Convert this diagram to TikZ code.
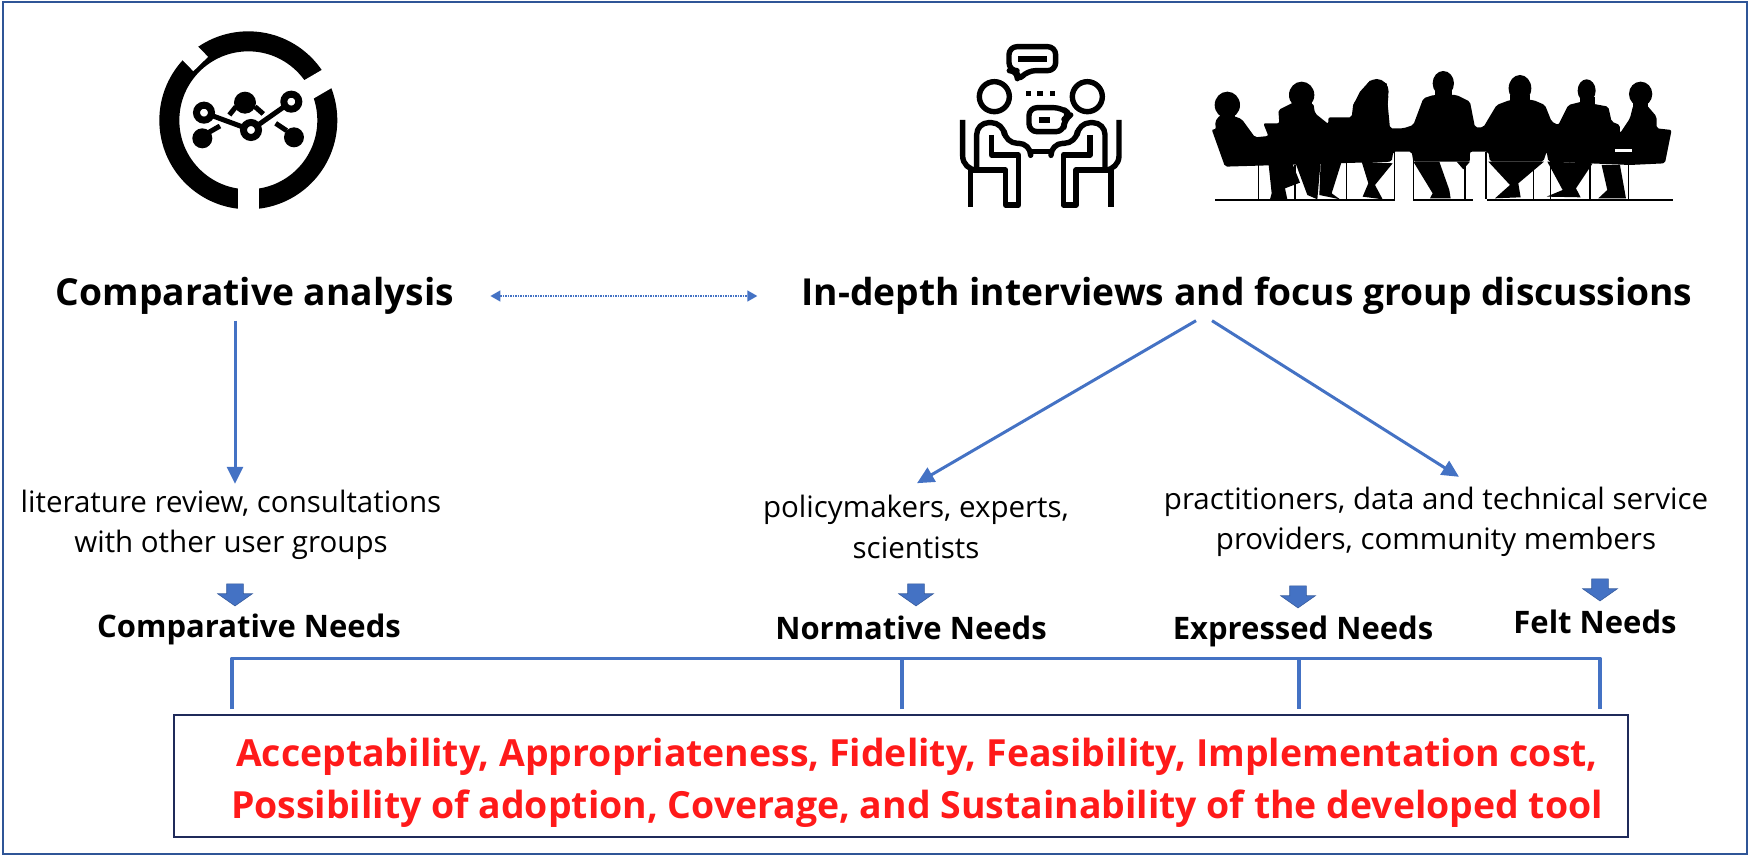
\documentclass[tikz,border=0pt]{standalone}
\usepackage{fontspec}
\setmainfont{Open Sans}
\usetikzlibrary{arrows.meta,shapes.arrows}
\definecolor{lineblue}{HTML}{4472C4}
\definecolor{framenavy}{HTML}{2F5597}
\definecolor{boxnavy}{HTML}{1F2A5A}
\definecolor{redtext}{HTML}{FF1A1A}
\tikzset{
    heading/.style={font=\fontsize{37.2}{42}\selectfont\bfseries,inner sep=0pt,text height=27pt,text depth=8pt},
    sources/.style={font=\fontsize{29.5}{40.5}\selectfont,align=center,inner sep=0pt},
    needs/.style={font=\fontsize{31}{36}\selectfont\bfseries,inner sep=0pt},
    outcomebox/.style={draw=boxnavy,line width=1.8pt,minimum width=1454pt,minimum height=122pt,inner sep=0pt},
    outcometext/.style={font=\fontsize{37.4}{52.5}\selectfont\bfseries,align=center,text=redtext,inner sep=0pt},
    link/.style={draw=lineblue,line width=3pt,-{Triangle[length=17pt,width=16pt]}},
    bracket/.style={draw=lineblue,line width=3.2pt},
    needarrow/.style={shape=single arrow,rotate=-90,fill=lineblue,draw=lineblue!80!black,line width=.6pt,inner xsep=0pt,inner ysep=8pt,
        minimum width=34pt,minimum height=22pt,single arrow head extend=9pt,single arrow tip angle=110,single arrow head indent=0pt},
    icon/.style={line width=5.4pt,draw=black,line join=round},
}
\begin{document}
\begin{tikzpicture}[x=1pt,y=-1pt]
    \useasboundingbox (0,0) rectangle (1750,856);
    \draw[framenavy,line width=2pt] (3,2) rectangle (1747,854);
    % analysis icon
    \begin{scope}[shift={(130,10)},x=0.3333pt,y=-0.3333pt]
        \draw[line width=20pt] (355,331) circle (237);
        \draw[white,line width=20.5pt] (355,515) -- (355,625);
        \draw[white,line width=20.5pt] (525,245) -- (645,175);
        \draw[white,line width=20.5pt] (212,162) -- (145,93);
        \fill (345,278) circle (33);
        \draw[line width=5pt] (318,290) -- (298,315) (375,290) -- (400,312);
        \fill (217,385) circle (30);
        \fill (492,382) circle (30);
        \draw[line width=5pt] (235,368) -- (270,348) (470,362) -- (437,340);
        \draw[white,line width=11pt] (222,308) -- (363,360) -- (484,275);
        \draw[line width=5pt] (222,308) -- (363,360) -- (484,275);
        \foreach \px/\py in {222/308,363/360,484/275}
            \draw[fill=white,line width=7pt] (\px,\py) circle (22.5);
    \end{scope}
    % interview icon
    \begin{scope}[shift={(940,30)},x=0.3333pt,y=-0.3333pt]
        \draw[icon,rounded corners=8pt] (232,122) -- (207,122) -- (207,50) -- (347,50) -- (347,122) -- (262,122) -- (232,155) -- cycle;
        \fill (235,78) rectangle (320,95);
        \foreach \px in {265,300,337}
            \fill (\px-8,183) rectangle (\px+8,199);
        \draw[icon,fill=white,rounded corners=8pt] (267,233) -- (365,233) -- (392,255) -- (372,268) -- (372,305) -- (267,305) -- cycle;
        \fill (297,262) rectangle (330,278);
        \draw[icon] (272,365) -- (333,365);
        \foreach \fx/\sx in {0.3333/0,-0.3333/605} {
            \begin{scope}[shift={(\sx,0)},x=\fx pt]
                \draw[icon] (163,200) circle (45);
                \draw[icon,rounded corners=12pt] (110,415) -- (110,278) -- (190,278) -- (196,340) -- (272,340) -- (272,372);
                \draw[icon] (155,315) -- (155,375) -- (235,375) -- (235,525) -- (197,525) -- (197,420) -- (92,420) -- (92,532);
                \draw[icon,rounded corners=14pt] (68,270) -- (68,420) -- (105,420);
            \end{scope}
        }
    \end{scope}
    % meeting silhouette
    \begin{scope}[shift={(1200,50)},x=0.3333pt,y=-0.3333pt]
        \fill[rounded corners=2pt] (35,238) -- (48,238) -- (45,215) -- (60,195) -- (100,198) -- (125,207) -- (165,262) -- (205,258) -- (190,220) -- (238,220)
            -- (235,180) -- (285,155) -- (340,160) -- (345,190) -- (385,222) -- (385,202) -- (455,202) -- (460,160) -- (490,130) -- (560,130) -- (570,235)
            -- (610,235) -- (640,225) -- (670,145) -- (700,135) -- (770,135) -- (810,155) -- (825,232) -- (850,232) -- (890,165) -- (930,150) -- (1000,150)
            -- (1035,165) -- (1055,215) -- (1075,225) -- (1105,165) -- (1145,155) -- (1225,170) -- (1235,215) -- (1260,225) -- (1260,250) -- (1290,205)
            -- (1300,165) -- (1340,165) -- (1370,200) -- (1370,235) -- (1415,240) -- (1395,340) -- (1290,345) -- (1045,335) -- (1040,305) -- (1030,335)
            -- (870,335) -- (865,305) -- (810,305) -- (810,335) -- (640,335) -- (635,305) -- (580,305) -- (575,335) -- (75,350) -- cycle;
        \foreach \hx/\hy/\hrx/\hry in {82/165/38/40,305/135/38/40,530/125/36/38,730/100/32/37,960/115/34/40,1160/122/27/34,1322/132/35/37}
            \fill (\hx,\hy) ellipse ({\hrx} and {\hry});
        \foreach \nx/\ny/\nw in {60/180/45,275/150/60,705/120/50,930/135/60,1140/140/45,1300/150/45}
            \fill (\nx,\ny) rectangle (\nx+\nw,\ny+28);
        \fill (460,165) -- (480,125) -- (510,92) -- (560,100) -- (565,140) -- (560,200) -- cycle;
        \fill (205,335) -- (215,430) -- (210,448) -- (262,448) -- (255,415) -- (300,398) -- (275,335) -- cycle;
        \fill (285,335) -- (322,435) -- (352,448) -- (362,335) -- cycle;
        \fill (362,335) -- (358,435) -- (420,448) -- (395,430) -- (425,335) -- cycle;
        \fill (485,335) -- (505,400) -- (488,440) -- (548,448) -- (525,405) -- (578,340) -- cycle;
        \fill (640,335) -- (698,430) -- (690,445) -- (752,445) -- (748,420) -- (718,335) -- cycle;
        \fill (770,335) -- (790,358) -- (810,335) -- cycle;
        \fill (865,335) -- (930,405) -- (885,445) -- (962,442) -- (955,400) -- (1032,335) -- cycle;
        \fill (1042,335) -- (1088,420) -- (1040,440) -- (1142,442) -- (1128,415) -- (1178,340) -- cycle;
        \fill (1205,345) -- (1222,420) -- (1195,445) -- (1278,445) -- (1260,345) -- cycle;
        \fill[white] (1245,296) rectangle (1295,305);
        \draw[line width=1.7pt] (45,450) -- (585,450) (640,450) -- (820,450) (860,450) -- (1418,450);
        \draw[line width=1.2pt] (175,345) -- (175,448) (285,345) -- (285,448) (440,335) -- (440,448) (583,305) -- (583,448) (640,305) -- (640,448)
            (795,335) -- (795,448) (858,305) -- (858,448) (1000,335) -- (1000,448) (1052,305) -- (1052,448) (1170,340) -- (1170,448) (1285,345) -- (1285,448);
    \end{scope}
    % texts
    \node[heading] (comparative) at (255,296) {Comparative analysis};
    \node[heading] (interviews) at (1247,296) {In-depth interviews and focus group discussions};
    \node[sources] (literature) at (231,525) {literature review, consultations\\with other user groups};
    \node[sources] (policy) at (916,527) {policymakers, experts,\\scientists};
    \node[sources] (practice) at (1436,522) {practitioners, data and technical service\\providers, community members};
    \node[needs] (compneeds) at (249,629) {Comparative Needs};
    \node[needs] (normneeds) at (911,628) {Normative Needs};
    \node[needs] (exprneeds) at (1303,631) {Expressed Needs};
    \node[needs] (feltneeds) at (1595,622) {Felt Needs};
    \node[outcomebox] (outcome) at (901,776) {};
    \node[outcometext] (outcomelist) at (917,783) {Acceptability, Appropriateness, Fidelity, Feasibility, Implementation cost,\\Possibility of adoption, Coverage, and Sustainability of the developed tool};
    % small block arrows
    \node[needarrow] (arrowcomp) at (235,592) {};
    \node[needarrow] (arrownorm) at (916,592) {};
    \node[needarrow] (arrowexpr) at (1298,594) {};
    \node[needarrow] (arrowfelt) at (1600,587) {};
    % connectors
    \draw[lineblue,line width=1.5pt,densely dotted,{Triangle[length=10pt,width=11pt]}-{Triangle[length=10pt,width=11pt]},shorten <=36pt,shorten >=44pt] (comparative.east) -- (interviews.west);
    \draw[link] ([xshift=-20pt,yshift=-7pt]comparative.south) -- ([xshift=4pt,yshift=6pt]literature.north);
    \draw[link] ([xshift=-51pt,yshift=-7pt]interviews.south) -- ([xshift=1pt,yshift=12pt]policy.north);
    \draw[link] ([xshift=-35pt,yshift=-7pt]interviews.south) -- ([xshift=23pt,yshift=10pt]practice.north);
    \draw[bracket,line join=round] ([xshift=-669pt,yshift=5pt]outcome.north) -- ++(0,-51) -- ++(1368,0) -- ++(0,51);
    \draw[bracket] ([xshift=1pt,yshift=5pt]outcome.north) -- ++(0,-51);
    \draw[bracket] ([xshift=398pt,yshift=5pt]outcome.north) -- ++(0,-51);
\end{tikzpicture}
\end{document}
